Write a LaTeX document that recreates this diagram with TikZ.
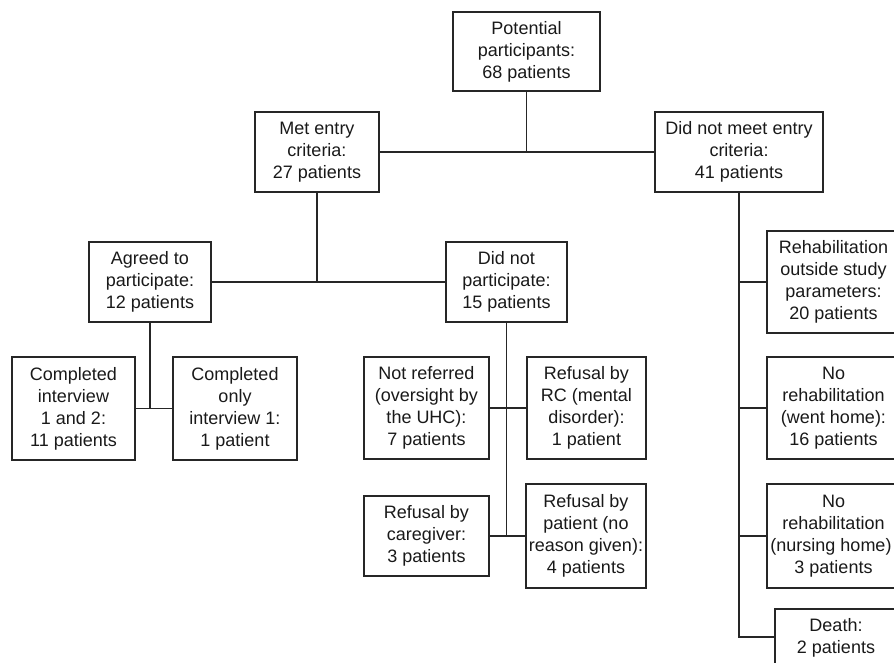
\documentclass[tikz,border=0pt]{standalone}
\usepackage{fontspec}
\setmainfont{Liberation Sans}
\begin{document}
\begin{tikzpicture}[x=1pt,y=-1pt,
  box/.style={draw=black!85, line width=1.2pt, inner sep=0pt, align=center,
    font=\fontsize{18}{22}\selectfont, text=black!90},
  conn/.style={draw=black!85, line width=1.2pt}]
\useasboundingbox (0,0) rectangle (894,662);
\clip (0,0) rectangle (894,662);
\node[box, minimum width=147pt, minimum height=79pt] (pot) at (526.5,51.5) {Potential\\participants:\\68 patients};
\node[box, minimum width=124pt, minimum height=80pt] (met) at (317,152) {Met entry\\criteria:\\27 patients};
\node[box, minimum width=168pt, minimum height=80pt] (dnm) at (739,152) {Did not meet entry\\criteria:\\41 patients};
\node[box, minimum width=122pt, minimum height=80pt] (agr) at (150,282) {Agreed to\\participate:\\12 patients};
\node[box, minimum width=121pt, minimum height=80pt] (dnp) at (506.5,282) {Did not\\participate:\\15 patients};
\node[box, minimum width=123pt, minimum height=103pt] (ci12) at (73.5,408.5) {Completed\\interview\\1 and 2:\\11 patients};
\node[box, minimum width=124pt, minimum height=103pt] (co1) at (235,408.5) {Completed\\only\\interview 1:\\1 patient};
\node[box, minimum width=125pt, minimum height=102pt] (nref) at (426.5,408) {Not referred\\(oversight by\\the UHC):\\7 patients};
\node[box, minimum width=119pt, minimum height=102pt] (rc) at (586.5,408) {Refusal by\\RC (mental\\disorder):\\1 patient};
\node[box, minimum width=125pt, minimum height=80pt] (cg) at (426.5,536) {Refusal by\\caregiver:\\3 patients};
\node[box, minimum width=120pt, minimum height=104pt] (rp) at (586,536) {Refusal by\\patient (no\\reason given):\\4 patients};
\node[box, minimum width=133pt, minimum height=102pt] (r20) at (833.5,282) {Rehabilitation\\outside study\\parameters:\\20 patients};
\node[box, minimum width=133pt, minimum height=102pt] (r16) at (833.5,408) {No\\rehabilitation\\(went home):\\16 patients};
\node[box, minimum width=133pt, minimum height=104pt] (r3) at (833.5,536) {No\\rehabilitation\\(nursing home)\hphantom{:}\\3 patients};
\node[box, minimum width=122pt, minimum height=58pt] (death) at (836,638) {Death:\\2 patients};
% connectors
\draw[conn] (met) -- (dnm);
\draw[conn] (pot) -- (pot |- met);
\draw[conn] (met) -- (met |- agr);
\draw[conn] (agr) -- (dnp);
\draw[conn] (agr) -- (agr |- ci12);
\draw[conn] (ci12) -- (co1);
\draw[conn] (dnp) -- (dnp |- cg);
\draw[conn] (nref) -- (rc);
\draw[conn] (cg) -- (rp);
\coordinate (jd) at (739,637);
\draw[conn] (dnm) -- (jd) -- (jd -| death.west);
\draw[conn] (jd |- r20) -- (r20);
\draw[conn] (jd |- r16) -- (r16);
\draw[conn] (jd |- r3) -- (r3);
\end{tikzpicture}
\end{document}
